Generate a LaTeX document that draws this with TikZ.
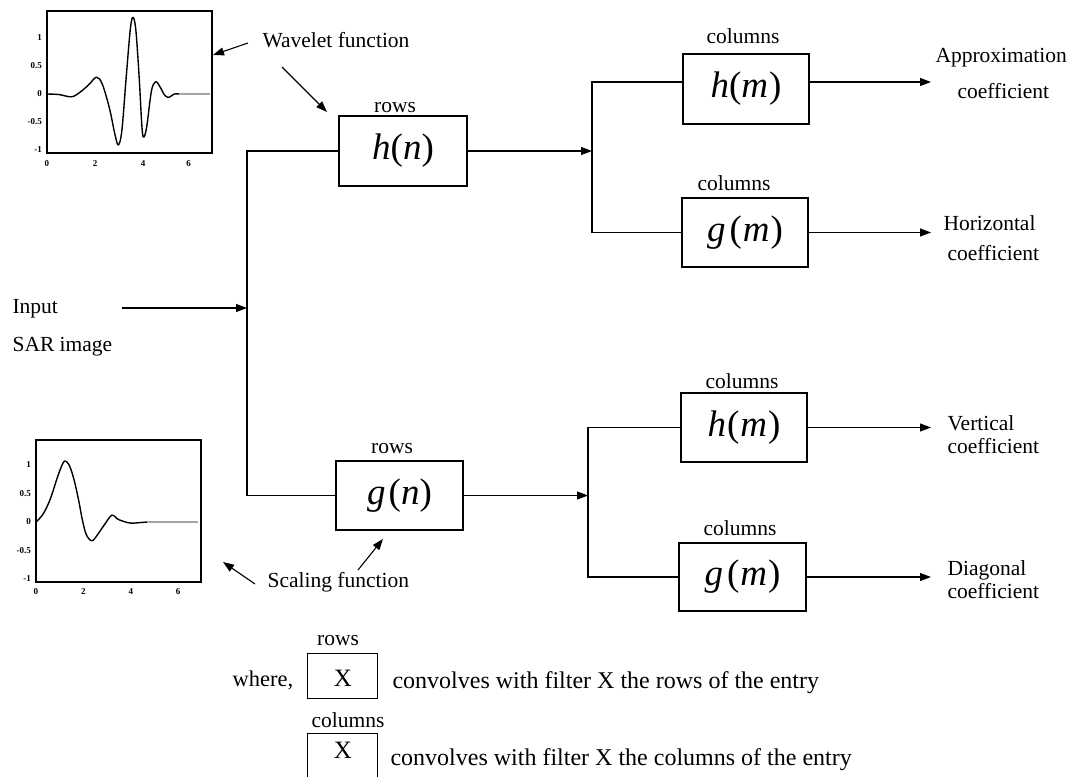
\documentclass[tikz,border=0pt]{standalone}
\usepackage{fontspec}
\setmainfont{Liberation Serif}
\usetikzlibrary{arrows.meta,calc}

\begin{document}
\begin{tikzpicture}[x=1pt,y=-1pt,
  line width=1.1pt,
  arr/.style={-{Triangle[length=11pt,width=8pt]}},
  filt/.style={draw, line width=1.1pt, minimum width=127pt, minimum height=70pt,
               inner sep=0pt, font=\fontsize{37}{37}\selectfont},
  lab/.style={font=\fontsize{21.5}{21.5}\selectfont, inner sep=0pt},
  leg/.style={font=\fontsize{24}{24}\selectfont, inner sep=0pt},
  plotbox/.style={draw, line width=1.3pt, minimum width=165pt, minimum height=142pt, inner sep=0pt},
  curve/.style={line width=1.4pt, line join=round},
  tail/.style={line width=1.6pt, black!35},
  tick/.style={font=\fontsize{9}{9}\selectfont\bfseries, inner sep=1pt},
  legbox/.style={draw, line width=1pt, minimum width=70pt, inner sep=0pt}
]
\useasboundingbox (0,0) rectangle (1080,777);

% ---------- wavelet function plot ----------
\node[plotbox] (wplot) at (129.5,82) {};
\begin{scope}[shift={(47,94)}, x=24pt, y=56pt]
  \draw[curve] plot[smooth, tension=0.55] coordinates {
    (0,0) (0.5,-0.01) (1.03,-0.05) (1.4,0.04) (1.75,0.17) (2.06,0.3)
    (2.3,0.18) (2.6,-0.25) (2.82,-0.7) (2.97,-0.91) (3.12,-0.65)
    (3.3,0.3) (3.47,1.15) (3.58,1.37) (3.7,1.15) (3.84,0.3)
    (3.95,-0.55) (4.02,-0.77) (4.15,-0.6) (4.35,0.05) (4.53,0.22)
    (4.72,0.12) (4.9,-0.02) (5.08,-0.06) (5.3,0) (5.5,0)};
  \draw[tail] (5.5,0) -- (6.8,0);
  \node[tick, anchor=east] (wy1) at (-0.15,1) {1};
  \node[tick, anchor=east] (wy2) at (-0.15,0.5) {0.5};
  \node[tick, anchor=east] (wy3) at (-0.15,0) {0};
  \node[tick, anchor=east] (wy4) at (-0.15,-0.5) {-0.5};
  \node[tick, anchor=east] (wy5) at (-0.15,-1) {-1};
  \node[tick] (wx0) at (0,-1.25) {0};
  \node[tick] (wx2) at (2,-1.25) {2};
  \node[tick] (wx4) at (4,-1.25) {4};
  \node[tick] (wx6) at (5.9,-1.25) {6};
\end{scope}

% ---------- scaling function plot ----------
\node[plotbox] (splot) at (118.5,511) {};
\begin{scope}[shift={(36,522)}, x=23.7pt, y=57pt]
  \draw[curve] plot[smooth, tension=0.55] coordinates {
    (0,0) (0.3,0.14) (0.6,0.4) (0.9,0.78) (1.1,1.0) (1.22,1.07)
    (1.4,1.0) (1.6,0.75) (1.8,0.38) (1.95,0.05) (2.12,-0.22)
    (2.36,-0.33) (2.6,-0.22) (2.9,-0.04) (3.2,0.12) (3.45,0.05)
    (3.7,0.01) (4.0,-0.02) (4.4,-0.01) (4.7,0)};
  \draw[tail] (4.7,0) -- (6.85,0);
  \node[tick, anchor=east] (sy1) at (-0.15,1) {1};
  \node[tick, anchor=east] (sy2) at (-0.15,0.5) {0.5};
  \node[tick, anchor=east] (sy3) at (-0.15,0) {0};
  \node[tick, anchor=east] (sy4) at (-0.15,-0.5) {-0.5};
  \node[tick, anchor=east] (sy5) at (-0.15,-1) {-1};
  \node[tick] (sx0) at (0,-1.22) {0};
  \node[tick] (sx2) at (2,-1.22) {2};
  \node[tick] (sx4) at (4,-1.22) {4};
  \node[tick] (sx6) at (6,-1.22) {6};
\end{scope}

% ---------- filter blocks ----------
\node[filt, minimum width=128pt] (hn) at (403,151) {\textit{h}(\textit{n})};
\node[filt, minimum height=69pt] (gn) at (399.5,495.5) {\textit{g}\kern3pt(\textit{n})};
\node[filt, minimum width=126pt] (hm1) at (746,89) {\raisebox{5pt}{\textit{h}(\textit{m}\kern1pt)}};
\node[filt, minimum width=126pt, minimum height=69pt] (gm1) at (745,232.5) {\textit{g}\kern4pt(\kern1pt\textit{m}\kern1pt)};
\node[filt, minimum width=126pt, minimum height=69pt] (hm2) at (744,427.5) {\textit{h}\kern1pt(\kern1pt\textit{m}\kern1pt)};
\node[filt, minimum height=68pt] (gm2) at (742.5,577) {\textit{g}\kern4pt(\kern1pt\textit{m}\kern1pt)};

\node[lab, anchor=base] (rowsA) at (395,112) {rows};
\node[lab, anchor=base] (rowsB) at (392,453) {rows};
\node[lab, anchor=base] (colA) at (743,43) {columns};
\node[lab, anchor=base] (colB) at (734,190) {columns};
\node[lab, anchor=base] (colC) at (742,388) {columns};
\node[lab, anchor=base] (colD) at (740,535) {columns};

% ---------- input and first split ----------
\node[lab, anchor=base west] (inp) at (12,313) {Input};
\node[lab, anchor=base west] (sar) at (12,351) {SAR image};
\coordinate (inpstart) at (122,308);
\coordinate (bus1) at (247,308);
\draw[arr] (inpstart) -- (bus1);
\draw (hn.west) -- (hn.west -| bus1) -- (gn.west -| bus1) -- (gn.west);

% ---------- second-level splits ----------
\coordinate (bus2) at (592,151);
\coordinate (bus3) at (588,496);
\draw[arr] (hn.east) -- (hn.east -| bus2);
\draw[arr] (gn.east) -- (gn.east -| bus3);
\coordinate (hm1in) at ([yshift=7pt]hm1.west);
\coordinate (hm1out) at ([yshift=7pt]hm1.east);
\draw (hm1in) -- (hm1in -| bus2) -- (gm1.west -| bus2) -- (gm1.west);
\draw (hm2.west) -- (hm2.west -| bus3) -- (gm2.west -| bus3) -- (gm2.west);

% ---------- outputs ----------
\coordinate (o1) at (931,82);
\coordinate (o2) at (931,232.5);
\coordinate (o3) at (931,427.5);
\coordinate (o4) at (931,577);
\draw[arr] (hm1out) -- (o1);
\draw[arr] (gm1.east) -- (o2);
\draw[arr] (hm2.east) -- (o3);
\draw[arr] (gm2.east) -- (o4);

\node[lab, anchor=base west] (appr) at (935,62) {Approximation};
\node[lab, anchor=base west] (apprc) at (957,98) {coefficient};
\node[lab, anchor=base west] (hori) at (943,230) {Horizontal};
\node[lab, anchor=base west] (horic) at (947,260) {coefficient};
\node[lab, anchor=base west] (vert) at (947,430) {Vertical};
\node[lab, anchor=base west] (vertc) at (947,453) {coefficient};
\node[lab, anchor=base west] (diag) at (947,575) {Diagonal};
\node[lab, anchor=base west] (diagc) at (947,598) {coefficient};

% ---------- function annotations ----------
\node[lab, anchor=base west] (wlab) at (262,47) {Wavelet function};
\node[lab, anchor=base west] (slab) at (267,587) {Scaling function};
\coordinate (wa1) at (248,43);
\coordinate (wa1tip) at (213,55);
\coordinate (wa2) at (282,67);
\coordinate (wa2tip) at (327,112);
\coordinate (sa1) at (358,570);
\coordinate (sa1tip) at (383,539);
\coordinate (sa2) at (255,584);
\coordinate (sa2tip) at (223,562);
\draw[arr] (wa1) -- (wa1tip);
\draw[arr] (wa2) -- (wa2tip);
\draw[arr] (sa1) -- (sa1tip);
\draw[arr] (sa2) -- (sa2tip);

% ---------- legend ----------
\node[lab, font=\fontsize{22.5}{22.5}\selectfont, anchor=base west] (where) at (232,686) {where,};
\node[legbox, minimum height=45pt] (lx1) at (342,675.5) {};
\node[leg, font=\fontsize{25}{25}\selectfont] (x1) at (343,678) {X};
\node[lab, anchor=base] (lrows) at (338,645) {rows};
\node[leg, anchor=base west] (ltxt1) at (392,688) {convolves with filter X the rows of the entry};
\node[lab, anchor=base] (lcols) at (348,727) {columns};
\node[legbox, minimum height=52pt] (lx2) at (342,759) {};
\node[leg, font=\fontsize{25}{25}\selectfont] (x2) at (343,750) {X};
\node[leg, anchor=base west] (ltxt2) at (390,765) {convolves with filter X the columns of the entry};
\end{tikzpicture}
\end{document}
